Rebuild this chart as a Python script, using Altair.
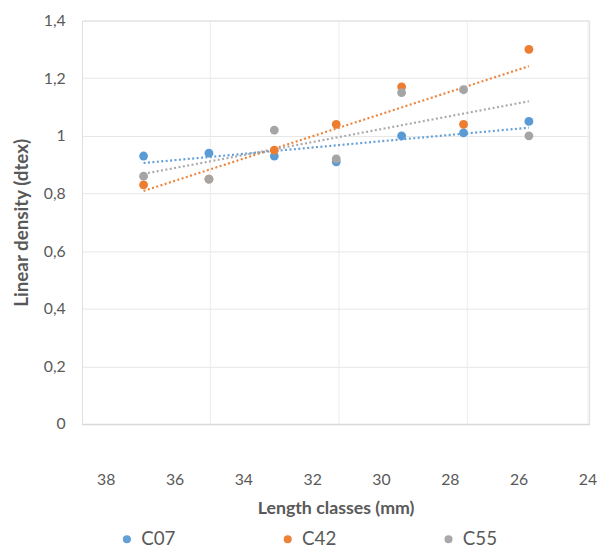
import altair as alt
import pandas as pd

# Data
length_classes = [36.9, 35.0, 33.1, 31.3, 29.4, 27.6, 25.7]
c07 = [0.93, 0.94, 0.93, 0.91, 1.00, 1.01, 1.05]
c42 = [0.83, 0.85, 0.95, 1.04, 1.17, 1.04, 1.30]
c55 = [0.86, 0.85, 1.02, 0.92, 1.15, 1.16, 1.00]

series_names = ["C07", "C42", "C55"]
series_colors = ["#5B9BD5", "#ED7D31", "#A5A5A5"]
x_ticks = [38, 36, 34, 32, 30, 28, 26, 24]
x_grid = [34.96, 31.22, 27.49, 23.98]
y_ticks = [0, 0.2, 0.4, 0.6, 0.8, 1.0, 1.2, 1.4]

rows = []
for name, vals in zip(series_names, [c07, c42, c55]):
    for x, v in zip(length_classes, vals):
        rows.append({"x": x, "y": v, "series": name})
df = pd.DataFrame(rows)
grid_df = pd.DataFrame({"gx": x_grid})

FONT = "Lato"
LABEL_COLOR = "#595959"

xscale = alt.Scale(domain=[23.95, 38.69], reverse=True, nice=False, zero=False)
yscale = alt.Scale(domain=[0, 1.4], nice=False)
color = alt.Color(
    "series:N",
    scale=alt.Scale(domain=series_names, range=series_colors),
    legend=alt.Legend(
        title=None,
        orient="none",
        direction="horizontal",
        columns=3,
        legendX=36,
        legendY=516,
        symbolType="circle",
        symbolSize=45,
        labelFontSize=19,
        labelFont=FONT,
        labelColor=LABEL_COLOR,
        labelOffset=5,
        columnPadding=104,
        gridAlign="all",
        padding=0,
    ),
)

yaxis = alt.Axis(
    values=y_ticks,
    grid=True,
    gridColor="#e6e6e6",
    ticks=False,
    domain=True,
    domainColor="#e0e0e0",
    labelPadding=17,
    labelFontSize=16,
    labelFont=FONT,
    labelColor=LABEL_COLOR,
    labelExpr="replace(toString(round(datum.value*10)/10), '.', ',')",
    title="Linear density (dtex)",
    titleFont=FONT,
    titleFontSize=19,
    titleFontWeight="bold",
    titleColor=LABEL_COLOR,
    titlePadding=12,
)

xaxis = alt.Axis(
    values=x_ticks,
    grid=False,
    ticks=False,
    domain=True,
    domainColor="#d9d9d9",
    domainWidth=1.5,
    labelPadding=48,
    labelFontSize=16,
    labelFont=FONT,
    labelColor=LABEL_COLOR,
    title="Length classes (mm)",
    titleFont=FONT,
    titleFontSize=18,
    titleFontWeight="bold",
    titleColor=LABEL_COLOR,
    titlePadding=13,
)

vgrid = alt.Chart(grid_df).mark_rule(color="#ececec", strokeWidth=1).encode(
    x=alt.X("gx:Q", scale=xscale, axis=xaxis)
)

base = alt.Chart(df)

trends = (
    base.transform_regression("x", "y", groupby=["series"])
    .mark_line(strokeDash=[2, 2.5], strokeWidth=2.2, opacity=0.95)
    .encode(
        x=alt.X("x:Q", scale=xscale),
        y=alt.Y("y:Q", scale=yscale, axis=yaxis),
        color=color,
    )
)

points = base.mark_circle(size=80, opacity=1).encode(
    x=alt.X("x:Q", scale=xscale),
    y=alt.Y("y:Q", scale=yscale),
    color=color,
)

chart = (
    alt.layer(vgrid, trends, points)
    .properties(
        width=514,
        height=409,
        autosize="none",
        padding={"left": 75, "top": 9, "right": 9, "bottom": 129},
    )
    .configure_view(stroke=None)
    .configure(background="white")
)

chart.save("out.html", embed_options={"renderer": "svg", "actions": False})
